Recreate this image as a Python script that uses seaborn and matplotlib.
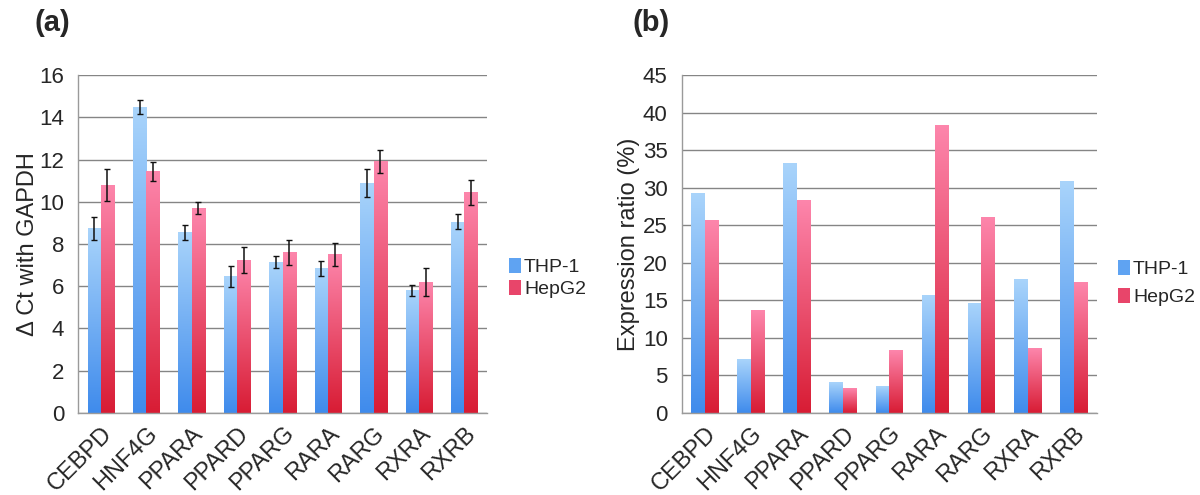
import matplotlib
matplotlib.use("Agg")
import matplotlib.pyplot as plt
from matplotlib.colors import LinearSegmentedColormap
from matplotlib.patches import Rectangle
import numpy as np
import pandas as pd
import seaborn as sns

# data
genes = ["CEBPD", "HNF4G", "PPARA", "PPARD", "PPARG", "RARA", "RARG", "RXRA", "RXRB"]
cells = ["THP-1", "HepG2"]

dct_thp1 = [8.75, 14.5, 8.55, 6.45, 7.15, 6.85, 10.9, 5.8, 9.05]
dct_thp1_err = [0.55, 0.35, 0.35, 0.5, 0.3, 0.35, 0.65, 0.25, 0.35]
dct_hepg2 = [10.8, 11.45, 9.7, 7.25, 7.6, 7.5, 11.9, 6.2, 10.45]
dct_hepg2_err = [0.75, 0.45, 0.3, 0.6, 0.6, 0.55, 0.55, 0.65, 0.6]

ratio_thp1 = [29.3, 7.1, 33.2, 4.1, 3.5, 15.6, 14.6, 17.8, 30.9]
ratio_hepg2 = [25.7, 13.7, 28.3, 3.3, 8.3, 38.3, 26.0, 8.6, 17.4]

# gradients: light at top, dark at bottom
cmaps = {
    "THP-1": LinearSegmentedColormap.from_list("blue", ["#3f8bec", "#a9d4fb"]),
    "HepG2": LinearSegmentedColormap.from_list("red", ["#d81c34", "#fd86ac"]),
}
legend_col = {"THP-1": "#5fa3f2", "HepG2": "#e8456a"}


def gradient_bars(ax, order):
    grad = np.linspace(0, 1, 256).reshape(-1, 1)
    n = len(genes)
    for i, p in enumerate(ax.patches[:n * len(order)]):
        cell = order[i // n]
        x0, y0 = p.get_x(), p.get_y()
        w, h = p.get_width(), p.get_height()
        if h <= 0:
            continue
        ax.imshow(grad, cmap=cmaps[cell], origin="lower", aspect="auto",
                  extent=(x0, x0 + w, y0, y0 + h), zorder=2)
        p.set_facecolor("none")
        p.set_edgecolor("none")


def style_axis(ax, ymax, step):
    ax.set_xlim(-0.5, len(genes) - 0.5)
    ax.set_ylim(0, ymax)
    ax.set_yticks(np.arange(0, ymax + 0.1, step))
    ax.yaxis.grid(True, color="#858585", lw=1.0)
    ax.xaxis.grid(False)
    ax.set_axisbelow(True)
    for s in ["top", "right"]:
        ax.spines[s].set_visible(False)
    for s in ["left", "bottom"]:
        ax.spines[s].set_color("#9a9a9a")
        ax.spines[s].set_linewidth(1.0)
    ax.set_xticks(np.arange(len(genes)))
    ax.set_xticklabels(genes, rotation=45, ha="right", rotation_mode="anchor", fontsize=17)
    ax.set_xticks(np.arange(-0.5, len(genes), 1), minor=True)
    ax.tick_params(axis="x", which="major", length=0, pad=7)
    ax.tick_params(axis="x", which="minor", length=7, color="#9a9a9a", direction="out")
    ax.tick_params(axis="y", labelsize=16, length=5, color="#9a9a9a", direction="out", pad=5)
    ax.set_xlabel("")


def add_legend(ax, x, y, spacing):
    handles = [Rectangle((0, 0), 1, 1, facecolor=legend_col[c], edgecolor="none") for c in cells]
    ax.legend(handles, cells, loc="center left", bbox_to_anchor=(x, y), frameon=False,
              fontsize=14, handlelength=0.6, handleheight=0.8, handletextpad=0.15,
              labelspacing=spacing, borderpad=0, borderaxespad=0)


sns.set_style("white")
plt.rcParams["font.family"] = ["Liberation Sans", "DejaVu Sans"]

fig = plt.figure(figsize=(12, 4.95), dpi=100)
ax1 = fig.add_axes([0.065, 0.166, 0.341, 0.682])
ax2 = fig.add_axes([0.568, 0.166, 0.346, 0.682])

# panel (a)
df_a = pd.DataFrame({
    "gene": genes * 2,
    "cell": ["THP-1"] * len(genes) + ["HepG2"] * len(genes),
    "value": dct_thp1 + dct_hepg2,
})
sns.barplot(data=df_a, x="gene", y="value", hue="cell", order=genes, hue_order=cells,
            width=0.58, gap=0, errorbar=None, legend=False, ax=ax1)
errs = dct_thp1_err + dct_hepg2_err
vals = dct_thp1 + dct_hepg2
for p, v, e in zip(ax1.patches[:len(vals)], vals, errs):
    ax1.errorbar(p.get_x() + p.get_width() / 2, v, yerr=e, fmt="none",
                 ecolor="#111111", elinewidth=1.1, capsize=2.5, capthick=1.0, zorder=4)
gradient_bars(ax1, cells)
style_axis(ax1, 16, 2)
ax1.set_ylabel("\u0394 Ct with GAPDH", fontsize=17, labelpad=0)
add_legend(ax1, 1.054, 0.40, 0.2)

# panel (b)
df_b = pd.DataFrame({
    "gene": genes * 2,
    "cell": ["THP-1"] * len(genes) + ["HepG2"] * len(genes),
    "value": ratio_thp1 + ratio_hepg2,
})
sns.barplot(data=df_b, x="gene", y="value", hue="cell", order=genes, hue_order=cells,
            width=0.59, gap=0, errorbar=None, legend=False, ax=ax2)
gradient_bars(ax2, cells)
style_axis(ax2, 45, 5)
ax2.set_ylabel("Expression ratio (%)", fontsize=17, labelpad=2)
add_legend(ax2, 1.052, 0.385, 0.5)

fig.text(0.029, 0.954, "(a)", fontsize=21, fontweight="bold", va="center")
fig.text(0.527, 0.954, "(b)", fontsize=21, fontweight="bold", va="center")

plt.savefig("out.png", dpi=100)
